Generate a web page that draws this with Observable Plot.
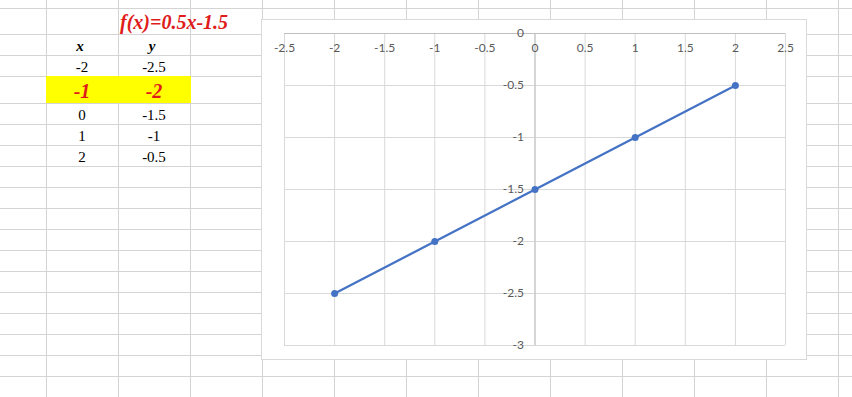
<!DOCTYPE html>
<html>
<head>
<meta charset="utf-8">
<script src="https://cdn.jsdelivr.net/npm/d3@7"></script>
<script src="https://cdn.jsdelivr.net/npm/@observablehq/plot@0.6"></script>
<style>
  body { margin: 0; background: #fff; }
  #sheet { position: relative; width: 852px; height: 397px; overflow: hidden; background: #fff; }
  .gl { position: absolute; background: #d4d4d4; }
  #hl { position: absolute; background: #ffff00; }
  #cells { position: absolute; left: 0; top: 0; }
  #chart-box { position: absolute; left: 261px; top: 19px; width: 546px; height: 341px;
               box-sizing: border-box; border: 1px solid #d9d9d9; background: #fff; }
  #chart { position: absolute; left: 261px; top: 19px; }
</style>
</head>
<body>
<div id="sheet"></div>
<script>
// Function table: f(x) = 0.5x - 1.5
const title = "f(x)=0.5x-1.5";
const headers = ["x", "y"];
const xs = [-2, -1, 0, 1, 2];
const ys = [-2.5, -2, -1.5, -1, -0.5];
const highlightRow = 1;          // the row shown in bold red on yellow

// Chart tick values
const xTicks = [-2.5, -2, -1.5, -1, -0.5, 0, 0.5, 1, 1.5, 2, 2.5];
const yTicks = [0, -0.5, -1, -1.5, -2, -2.5, -3];

// Worksheet layout (pixel edges of columns and rows)
const colEdges = d3.range(12).map(k => 46 + 72 * k);
const rowEdges = [8, 34, 55, 76, 103, 124, 145, 166, 187, 208, 229, 250, 271, 292, 313, 334, 355, 376];
const colB = (colEdges[0] + colEdges[1]) / 2;
const colC = (colEdges[1] + colEdges[2]) / 2;

const sheet = d3.select("#sheet");

// cell gridlines
colEdges.forEach(x => sheet.append("div").attr("class", "gl")
  .style("left", x + "px").style("top", "0px").style("width", "1px").style("height", "397px"));
rowEdges.forEach(y => sheet.append("div").attr("class", "gl")
  .style("left", "0px").style("top", y + "px").style("width", "852px").style("height", "1px"));

// highlighted row fill
const hlTop = rowEdges[3 + highlightRow - 1];
sheet.append("div").attr("id", "hl")
  .style("left", colEdges[0] + "px").style("top", hlTop + "px")
  .style("width", (colEdges[2] - colEdges[0] + 1) + "px")
  .style("height", (rowEdges[4] - rowEdges[3]) + "px");

// cell texts
const cells = sheet.append("svg").attr("id", "cells").attr("width", 852).attr("height", 397)
  .style("font-family", "'Liberation Serif', 'Times New Roman', serif");

cells.append("text").attr("x", colEdges[1] + 2).attr("y", rowEdges[1] - 5.5)
  .attr("fill", "#e01b1b").attr("font-size", 20).attr("font-weight", "bold")
  .attr("font-style", "italic").text(title);

[colB, colC].forEach((cx, j) => cells.append("text")
  .attr("x", cx - 2).attr("y", rowEdges[2] - 4.5).attr("text-anchor", "middle")
  .attr("font-size", 15).attr("font-weight", "bold").attr("font-style", "italic")
  .text(headers[j]));

xs.forEach((xv, i) => {
  const bottom = rowEdges[3 + i];
  const hot = i === highlightRow;
  [xv, ys[i]].forEach((v, j) => {
    const t = cells.append("text")
      .attr("x", j === 0 ? colB : colC)
      .attr("y", hot ? bottom - 5 : bottom - 4)
      .attr("text-anchor", "middle")
      .text(String(v));
    if (hot) t.attr("fill", "#e01b1b").attr("font-size", 20)
      .attr("font-weight", "bold").attr("font-style", "italic");
    else t.attr("fill", "#000").attr("font-size", 15);
  });
});

// chart area
sheet.append("div").attr("id", "chart-box");

const points = xs.map((x, i) => ({x, y: ys[i]}));
const fmt = d => String(d);

const chart = Plot.plot({
  width: 546,
  height: 341,
  marginLeft: 23,
  marginRight: 22,
  marginTop: 14,
  marginBottom: 15,
  x: {domain: [-2.5, 2.5], axis: null},
  y: {domain: [-3, 0], axis: null},
  style: {background: "transparent", fontFamily: "Lato, 'Liberation Sans', sans-serif", fontSize: "12px", overflow: "visible"},
  marks: [
    Plot.ruleX(xTicks, {stroke: "#d9d9d9"}),
    Plot.ruleY(yTicks, {stroke: "#d9d9d9"}),
    Plot.ruleX([0], {stroke: "#bfbfbf"}),
    Plot.ruleY([0], {stroke: "#bfbfbf"}),
    Plot.text(xTicks, {x: d => d, y: () => 0, text: fmt, dy: 15, fill: "#595959"}),
    Plot.text(yTicks, {x: () => 0, y: d => d, text: fmt, dx: -11, textAnchor: "end", fill: "#595959"}),
    Plot.line(points, {x: "x", y: "y", stroke: "#4472c4", strokeWidth: 2.25}),
    Plot.dot(points, {x: "x", y: "y", r: 3.5, fill: "#4472c4"})
  ]
});
chart.setAttribute("id", "chart");
sheet.node().appendChild(chart);
</script>
</body>
</html>
